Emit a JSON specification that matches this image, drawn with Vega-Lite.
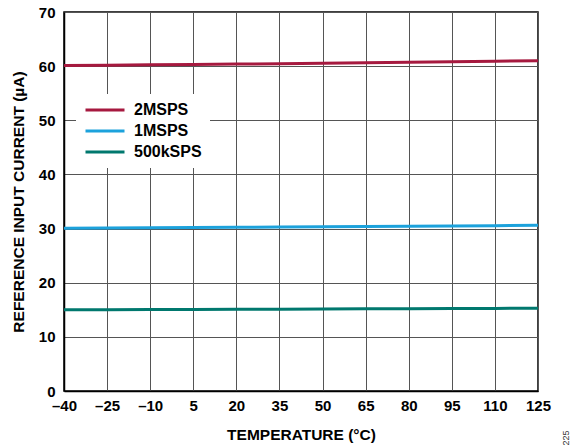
{
  "$schema": "https://vega.github.io/schema/vega-lite/v6.json",
  "width": 474,
  "height": 379,
  "autosize": "none",
  "padding": {"left": 64, "top": 12, "right": 38, "bottom": 55},
  "background": "white",
  "title": {"text": "225", "orient": "right", "anchor": "end", "angle": -90, "fontSize": 9, "font": "Liberation Sans", "fontWeight": "normal", "color": "#333333", "offset": 2, "dx": 12},
  "config": {
    "view": {"stroke": "black", "strokeWidth": 1.5},
    "axis": {"labelFont": "Liberation Sans", "labelFontWeight": "bold", "labelFontSize": 15, "labelColor": "black", "titleFont": "Liberation Sans", "titleFontWeight": "bold", "titleFontSize": 15.5, "titleColor": "black", "gridColor": "#555555", "gridWidth": 1, "gridOpacity": 1, "domainColor": "black", "domainWidth": 1.5, "ticks": false}
  },
  "data": {"values": [
    {"t": -40, "v": 60.1, "s": "2MSPS"}, {"t": -25, "v": 60.17, "s": "2MSPS"}, {"t": -10, "v": 60.24, "s": "2MSPS"}, {"t": 5, "v": 60.31, "s": "2MSPS"}, {"t": 20, "v": 60.38, "s": "2MSPS"}, {"t": 35, "v": 60.46, "s": "2MSPS"}, {"t": 50, "v": 60.54, "s": "2MSPS"}, {"t": 65, "v": 60.62, "s": "2MSPS"}, {"t": 80, "v": 60.71, "s": "2MSPS"}, {"t": 95, "v": 60.8, "s": "2MSPS"}, {"t": 110, "v": 60.9, "s": "2MSPS"}, {"t": 125, "v": 61.0, "s": "2MSPS"},
    {"t": -40, "v": 30.05, "s": "1MSPS"}, {"t": -25, "v": 30.1, "s": "1MSPS"}, {"t": -10, "v": 30.15, "s": "1MSPS"}, {"t": 5, "v": 30.2, "s": "1MSPS"}, {"t": 20, "v": 30.24, "s": "1MSPS"}, {"t": 35, "v": 30.28, "s": "1MSPS"}, {"t": 50, "v": 30.33, "s": "1MSPS"}, {"t": 65, "v": 30.38, "s": "1MSPS"}, {"t": 80, "v": 30.43, "s": "1MSPS"}, {"t": 95, "v": 30.48, "s": "1MSPS"}, {"t": 110, "v": 30.54, "s": "1MSPS"}, {"t": 125, "v": 30.6, "s": "1MSPS"},
    {"t": -40, "v": 15.0, "s": "500kSPS"}, {"t": -25, "v": 15.02, "s": "500kSPS"}, {"t": -10, "v": 15.05, "s": "500kSPS"}, {"t": 5, "v": 15.07, "s": "500kSPS"}, {"t": 20, "v": 15.1, "s": "500kSPS"}, {"t": 35, "v": 15.12, "s": "500kSPS"}, {"t": 50, "v": 15.15, "s": "500kSPS"}, {"t": 65, "v": 15.17, "s": "500kSPS"}, {"t": 80, "v": 15.2, "s": "500kSPS"}, {"t": 95, "v": 15.23, "s": "500kSPS"}, {"t": 110, "v": 15.26, "s": "500kSPS"}, {"t": 125, "v": 15.3, "s": "500kSPS"}
  ]},
  "mark": {"type": "line", "strokeWidth": 3},
  "encoding": {
    "x": {"field": "t", "type": "quantitative", "scale": {"domain": [-40, 125], "nice": false, "zero": false},
      "axis": {"values": [-40, -25, -10, 5, 20, 35, 50, 65, 80, 95, 110, 125], "title": "TEMPERATURE (°C)", "labelPadding": 7, "titlePadding": 14, "labelExpr": "replace(datum.label, '−', '–')", "labelFlush": false}},
    "y": {"field": "v", "type": "quantitative", "scale": {"domain": [0, 70], "nice": false},
      "axis": {"values": [0, 10, 20, 30, 40, 50, 60, 70], "title": "REFERENCE INPUT CURRENT (µA)", "labelPadding": 9, "titlePadding": 12}},
    "color": {"field": "s", "type": "nominal",
      "scale": {"domain": ["2MSPS", "1MSPS", "500kSPS"], "range": ["#a6193f", "#1ca2dc", "#00786e"]},
      "legend": {"title": null, "orient": "none", "legendX": 12, "legendY": 82, "fillColor": "white", "padding": 8, "symbolType": "M-1,0H5", "symbolStrokeWidth": 3, "symbolSize": 169, "labelFont": "Liberation Sans", "labelFontWeight": "bold", "labelFontSize": 16, "labelColor": "black", "rowPadding": 5, "labelOffset": 34}}
  }
}
